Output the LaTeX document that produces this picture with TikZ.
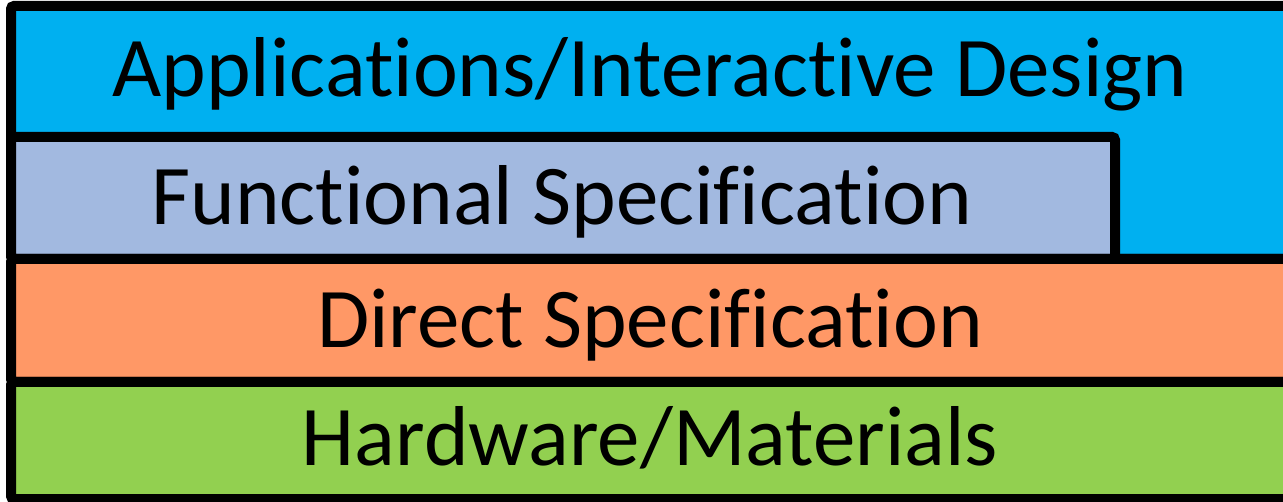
\documentclass[tikz,border=0pt]{standalone}
\usepackage{fontspec}
\setmainfont[Ligatures={NoCommon}]{Carlito}
\definecolor{appblue}{RGB}{0,176,240}
\definecolor{funcblue}{RGB}{162,185,224}
\definecolor{direct}{RGB}{255,152,102}
\definecolor{hwgreen}{RGB}{146,208,80}
\tikzset{
  layer/.style={draw=black, line width=10pt, rounded corners=3pt},
  lbl/.style={anchor=base, inner sep=0pt, font=\fontsize{85}{95}\selectfont}
}
\begin{document}
\begin{tikzpicture}[x=1pt,y=-1pt]
\useasboundingbox (0,0) rectangle (1283,502);
\clip (0,0) rectangle (1283,502);
\path[layer, fill=appblue] (11,6) rectangle (1320,259);
\path[layer, fill=funcblue] (11,137) rectangle (1115,259);
\path[layer, fill=direct] (11,259) rectangle (1320,382);
\path[layer, fill=hwgreen] (11,382) rectangle (1320,499);
\node[lbl] (app) at (650,97) {Applications/Interactive Design};
\node[lbl] (func) at (562,225) {Functional Specification};
\node[lbl] (dir) at (650,348) {Direct Specification};
\node[lbl] (hw) at (650,465) {Hardware/Materials};
\end{tikzpicture}
\end{document}
